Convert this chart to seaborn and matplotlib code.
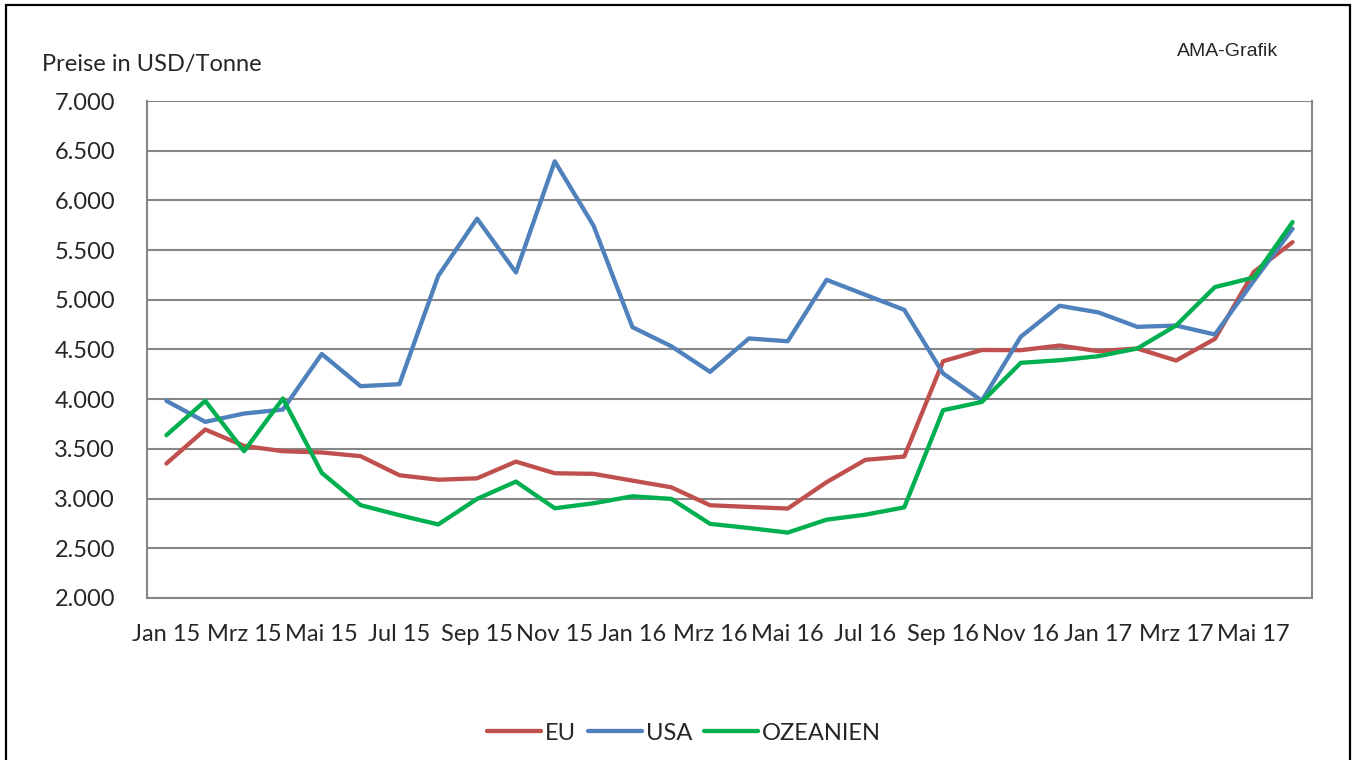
import matplotlib
matplotlib.use("Agg")
import matplotlib.pyplot as plt
import matplotlib.ticker as mticker
from matplotlib.patches import Rectangle
import seaborn as sns
import pandas as pd
import numpy as np

months = ["Jan 15", "Feb 15", "Mrz 15", "Apr 15", "Mai 15", "Jun 15", "Jul 15", "Aug 15",
          "Sep 15", "Okt 15", "Nov 15", "Dez 15", "Jan 16", "Feb 16", "Mrz 16", "Apr 16",
          "Mai 16", "Jun 16", "Jul 16", "Aug 16", "Sep 16", "Okt 16", "Nov 16", "Dez 16",
          "Jan 17", "Feb 17", "Mrz 17", "Apr 17", "Mai 17", "Jun 17"]

eu = [3353, 3695, 3530, 3477, 3464, 3427, 3235, 3190, 3204, 3372,
      3255, 3249, 3181, 3114, 2933, 2916, 2900, 3165, 3390, 3423,
      4382, 4495, 4493, 4540, 4483, 4510, 4389, 4607, 5280, 5580]
usa = [3983, 3772, 3856, 3896, 4455, 4131, 4151, 5241, 5816, 5275,
       6393, 5745, 4725, 4533, 4275, 4611, 4583, 5201, 5050, 4899,
       4259, 3985, 4628, 4940, 4873, 4728, 4741, 4651, 5190, 5715]
oze = [3638, 3983, 3477, 4007, 3259, 2934, 2833, 2740, 2997, 3171,
       2903, 2953, 3023, 2997, 2746, 2704, 2658, 2788, 2838, 2912,
       3889, 3973, 4366, 4392, 4433, 4510, 4741, 5128, 5224, 5782]

series_names = ["EU", "USA", "OZEANIEN"]
colors = ["#C0504D", "#4F81BD", "#00B050"]

rows = []
for name, vals in zip(series_names, [eu, usa, oze]):
    for i, v in enumerate(vals):
        rows.append({"idx": i, "Monat": months[i], "Preis": v, "Serie": name})
df = pd.DataFrame(rows)

sns.set_style("white")
plt.rcParams["font.family"] = ["Lato", "DejaVu Sans"]

W, H = 1356, 760
fig = plt.figure(figsize=(W / 100, H / 100), dpi=100)
fig.patch.set_facecolor("white")
L, R, T, B = 147, 1312, 101, 598
ax = fig.add_axes([L / W, 1 - B / H, (R - L) / W, (B - T) / H])

sns.lineplot(data=df, x="idx", y="Preis", hue="Serie", hue_order=series_names,
             palette=colors, linewidth=3.1, ax=ax, legend=True, zorder=3)

grid_c = "#868686"
ax.set_xlim(-0.5, len(months) - 0.5)
ax.set_ylim(2000, 7000)
ax.yaxis.set_major_locator(mticker.MultipleLocator(500))
ax.yaxis.set_major_formatter(mticker.FuncFormatter(lambda v, p: f"{int(v):,}".replace(",", ".")))
ax.grid(axis="y", color=grid_c, linewidth=1.5, zorder=0)
ax.set_axisbelow(True)

ax.set_xticks(np.arange(-0.5, len(months), 2))
ax.set_xticklabels([])
ax.set_xticks(np.arange(0, len(months), 2), minor=True)
ax.set_xticklabels([months[i] for i in range(0, len(months), 2)], minor=True)
ax.tick_params(axis="x", which="major", direction="out", length=6, width=1.5, color=grid_c)
ax.tick_params(axis="x", which="minor", length=0, pad=19, labelsize=17)
ax.tick_params(axis="y", direction="out", length=6.5, width=1.5, color=grid_c, labelsize=17, pad=16.5)

for s in ["left", "bottom", "right"]:
    ax.spines[s].set_color(grid_c)
    ax.spines[s].set_linewidth(1.5)
ax.spines["top"].set_visible(False)
ax.set_xlabel("")
ax.set_ylabel("")

handles, labels = ax.get_legend_handles_labels()
ax.legend_.remove()
fig.legend(handles, labels, loc="center", bbox_to_anchor=(684 / W, 1 - 733 / H), ncol=3,
           frameon=False, fontsize=17, handlelength=2.3, handletextpad=0.15, columnspacing=0.5)

fig.text(42 / W, 1 - 64 / H, "Preise in USD/Tonne", fontsize=17, ha="left", va="center")
fig.text(1228 / W, 1 - 52 / H, "AMA-Grafik", fontsize=14, ha="center", va="center",
         family=["Liberation Sans", "DejaVu Sans"])

fig.patches.append(Rectangle((6 / W, -0.05), (1350 - 6) / W, 1.05 - 5 / H,
                             transform=fig.transFigure, fill=False, edgecolor="black",
                             linewidth=1.6))

fig.savefig("out.png", dpi=100, facecolor="white")
